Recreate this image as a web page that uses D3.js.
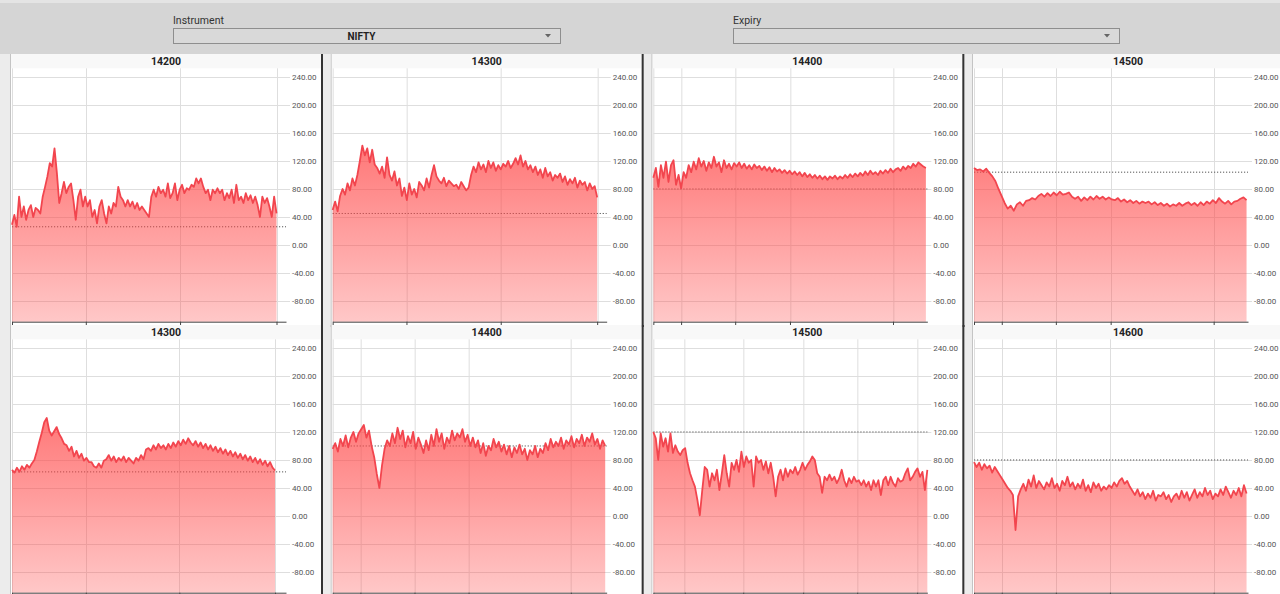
<!DOCTYPE html>
<html><head><meta charset="utf-8">
<script src="https://cdn.jsdelivr.net/npm/d3@7"></script>
<style>
body{margin:0;background:#ececec;font-family:Roboto,"Noto Sans",sans-serif;overflow:hidden}
svg{display:block}
</style></head><body>
<svg id="chart" width="1280" height="594"></svg>
<script>
// ---- data ----
const strikes = ["14200","14300","14400","14500","14300","14400","14500","14600"];
const refLevels = [26, 45, 80, 104, 63, 100, 120, 80];
const dataEnds = [362, 362, 373, 373, 360, 373, 375, 373];
const gridTicks = [
  [0,101,230,362],[0,101,230,362],[0,38,112,187,328],[0,38,112,187,328],
  [0,101,229,360],[0,38,112,186,326],[0,43,123,205,279,361],[0,38,112,186,328]
];
const yTicks = [240,200,160,120,80,40,0,-40,-80];
const sessionLength = 375;
const yMin = -109.6, yMax = 252.4;

const s14200a = [29,43,26,69,40,55,36,50,57,40,53,50,45,69,83,98,117,112,138,103,60,74,90,74,83,88,64,36,69,79,55,69,55,64,40,50,31,55,64,45,31,55,45,60,55,83,69,64,55,64,55,62,52,60,50,55,50,45,40,69,79,69,83,74,79,69,88,67,74,88,64,79,86,74,81,79,86,83,95,88,95,83,74,79,64,79,74,81,74,79,64,74,67,79,60,86,64,69,60,74,64,71,60,69,57,40,69,60,67,55,40,69,45];
const s14300a = [50,62,48,70,80,72,88,78,95,85,100,120,142,128,138,118,136,115,110,102,112,96,125,100,92,105,85,95,70,82,64,88,72,80,68,90,85,78,95,82,100,114,98,92,88,96,84,92,88,84,86,80,90,84,78,82,100,112,104,118,108,115,104,120,110,118,106,114,108,116,112,120,110,116,124,115,128,112,120,108,114,104,112,100,108,96,110,98,104,92,100,96,102,90,98,86,94,88,96,82,92,86,90,78,88,80,84,68];
const s14400a = [96,110,83,114,96,119,90,114,121,86,100,81,104,96,114,104,119,108,124,112,120,106,118,110,126,112,118,104,121,110,116,108,117,112,118,110,116,109,114,108,115,110,113,107,112,106,111,104,110,105,108,103,107,102,106,101,105,100,104,98,103,97,101,96,100,95,99,94,98,93,98,95,99,94,98,95,100,96,101,97,102,98,103,99,105,100,106,101,104,100,106,102,107,103,109,104,108,110,106,112,108,113,110,116,112,118,115,112,110];
const s14500a = [110,107,108,105,109,103,98,91,80,70,60,52,56,49,58,61,56,63,64,67,65,70,73,69,74,70,75,71,76,72,73,75,69,66,69,63,68,64,69,65,70,66,69,65,68,65,64,67,62,65,61,64,60,63,59,62,60,62,58,61,57,60,56,59,55,58,56,60,56,59,61,57,60,56,61,57,62,59,64,60,67,62,59,63,58,62,63,66,68,64];
const s14300b = [66,62,69,63,71,66,73,69,75,80,92,106,119,134,140,122,115,121,127,117,111,103,101,93,99,85,93,83,89,79,83,77,77,71,69,75,69,79,81,87,79,85,77,83,79,85,77,83,79,75,83,79,87,81,95,97,93,101,95,103,97,101,95,103,97,105,99,107,101,109,103,111,105,101,107,99,105,97,103,95,101,93,99,91,97,89,95,87,93,85,91,83,89,81,87,79,85,77,83,75,81,73,79,71,77,69,65];
const s14400b = [96,104,92,110,100,115,98,112,120,106,118,124,130,112,122,100,84,60,40,72,96,108,100,118,104,126,110,122,98,114,104,120,96,112,102,90,108,94,116,100,124,106,118,96,112,104,122,108,118,112,124,106,116,100,112,98,108,90,104,86,100,94,110,98,106,92,102,88,100,84,98,90,102,88,96,80,94,88,100,84,96,90,104,94,110,98,106,100,112,96,108,102,114,98,110,104,116,100,112,106,118,102,110,96,108,100];
const s14500b = [120,111,80,118,99,111,92,118,90,101,92,87,94,97,76,61,51,42,23,1,37,70,66,42,61,51,66,37,61,87,61,42,76,66,80,63,92,70,85,76,80,42,85,76,80,66,78,61,76,56,28,56,66,51,68,56,66,61,70,59,66,76,66,73,78,85,80,61,56,33,56,51,59,51,56,47,54,66,51,42,54,47,56,49,51,44,51,42,49,37,51,42,51,30,51,56,44,56,47,42,54,49,51,61,68,51,56,63,68,56,63,37,66];
const s14600b = [77,70,76,66,74,68,72,62,70,64,58,52,46,40,36,30,-20,28,38,46,36,52,42,58,40,50,44,38,48,42,54,40,46,36,50,44,56,42,48,38,46,40,52,36,44,34,48,40,46,36,42,38,44,40,48,42,50,54,46,50,42,36,30,38,28,34,24,32,26,36,22,30,28,34,24,30,20,28,32,24,36,26,34,22,30,38,26,34,28,40,30,36,24,32,28,38,30,42,34,26,36,30,40,28,44,32];
const seriesList = [s14200a, s14300a, s14400a, s14500a, s14300b, s14400b, s14500b, s14600b];

// ---- layout ----
const svg = d3.select("#chart");
const colW = 320.67, rowH = 271, headerH = 54;
const plotL = 12, plotR = 286, plotT = 14.3, plotB = 267.7;

// header
svg.append("rect").attr("x",0).attr("y",0).attr("width",1280).attr("height",headerH).attr("fill","#d5d5d5");
svg.append("rect").attr("x",0).attr("y",0).attr("width",1280).attr("height",3).attr("fill","#e4e4e4");
const selects = [{label:"Instrument", x:173, w:387, value:"NIFTY"},{label:"Expiry", x:733, w:386, value:""}];
selects.forEach(s=>{
  svg.append("text").attr("x",s.x).attr("y",24).attr("font-size",10.5).attr("fill","#333").text(s.label);
  svg.append("rect").attr("x",s.x+0.5).attr("y",28.5).attr("width",s.w).attr("height",15)
    .attr("fill","#d9d9d9").attr("stroke","#8e8e8e");
  svg.append("text").attr("x",s.x+s.w/2-5).attr("y",39.5).attr("text-anchor","middle")
    .attr("font-size",10).attr("font-weight","bold").attr("fill","#222").text(s.value);
  const tx = s.x+s.w-12;
  svg.append("path").attr("d",`M${tx-3},34 L${tx+3},34 L${tx},37.5 Z`).attr("fill","#666");
});

// gradient
const defs = svg.append("defs");
const grad = defs.append("linearGradient").attr("id","areaGrad").attr("gradientUnits","userSpaceOnUse")
  .attr("x1",0).attr("x2",0).attr("y1",plotT).attr("y2",plotB);
grad.append("stop").attr("offset",0).attr("stop-color","#ff4646").attr("stop-opacity",0.92);
grad.append("stop").attr("offset",1).attr("stop-color","#ff4646").attr("stop-opacity",0.3);

const x = d3.scaleLinear().domain([0, sessionLength]).range([plotL, plotR]);
const y = d3.scaleLinear().domain([yMin, yMax]).range([plotB, plotT]);

seriesList.forEach((vals, k)=>{
  const r = Math.floor(k/4), c = k%4;
  const g = svg.append("g").attr("transform",`translate(${c*colW},${headerH + r*rowH})`);
  // panel
  g.append("rect").attr("x",10).attr("y",0).attr("width",311).attr("height",rowH).attr("fill","#fff");
  g.append("rect").attr("x",10).attr("y",0).attr("width",311).attr("height",plotT).attr("fill","#f8f8f8");
  g.append("line").attr("x1",10.5).attr("x2",10.5).attr("y1",0).attr("y2",rowH).attr("stroke","#c4c4c4");
  // title
  g.append("text").attr("x",166).attr("y",11).attr("text-anchor","middle").attr("font-size",10.5)
    .attr("font-weight","bold").attr("fill","#222").text(strikes[k]);
  // y grid + labels
  yTicks.forEach(t=>{
    g.append("line").attr("x1",plotL).attr("x2",plotR+4).attr("y1",Math.round(y(t))+0.5).attr("y2",Math.round(y(t))+0.5)
      .attr("stroke","#dedede");
    g.append("text").attr("x",292).attr("y",y(t)+3).attr("font-size",8).attr("fill","#555").text(t.toFixed(2));
  });
  // x grid
  gridTicks[k].forEach(t=>{
    g.append("line").attr("x1",Math.round(x(t))+0.5).attr("x2",Math.round(x(t))+0.5).attr("y1",plotT).attr("y2",plotB)
      .attr("stroke","#dedede");
  });
  // reference line (under the translucent fill)
  g.append("line").attr("x1",plotL).attr("x2",plotR).attr("y1",y(refLevels[k])).attr("y2",y(refLevels[k]))
    .attr("stroke","#555").attr("stroke-dasharray","1.2,1.8");
  // area + line
  const n = vals.length;
  const px = i => x(dataEnds[k]*i/(n-1));
  const area = d3.area().x((d,i)=>px(i)).y0(plotB).y1(d=>y(d));
  const line = d3.line().x((d,i)=>px(i)).y(d=>y(d));
  g.append("path").datum(vals).attr("d",area).attr("fill","url(#areaGrad)");
  g.append("path").datum(vals).attr("d",line).attr("fill","none").attr("stroke","#f2454e").attr("stroke-width",1.8)
    .attr("stroke-linejoin","round");
  // x axis
  const ax = g.append("g").attr("transform",`translate(0,${plotB})`)
    .call(d3.axisBottom(x).tickValues(gridTicks[k]).tickSize(4).tickSizeOuter(0).tickFormat(""));
  ax.select(".domain").attr("stroke","#444");
  ax.selectAll(".tick line").attr("stroke","#444");
  // borders
  g.append("rect").attr("x",321).attr("y",0).attr("width",2).attr("height",rowH+2).attr("fill","#333");
  g.append("rect").attr("x",10).attr("y",rowH).attr("width",313).attr("height",2).attr("fill","#333");
});
</script>
</body></html>
